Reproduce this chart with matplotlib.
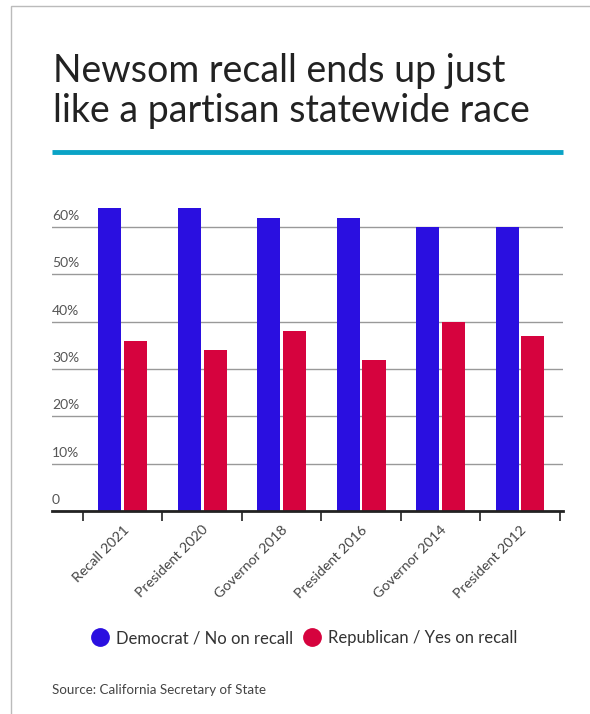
import matplotlib
matplotlib.use("Agg")
import matplotlib.pyplot as plt
import numpy as np
from matplotlib.lines import Line2D
from matplotlib.patches import Rectangle

# --- data ---
races = ["Recall 2021", "President 2020", "Governor 2018",
         "President 2016", "Governor 2014", "President 2012"]
dem_no = [64, 64, 62, 62, 60, 60]
rep_yes = [36, 34, 38, 32, 40, 37]
y_ticks = [0, 10, 20, 30, 40, 50, 60]
y_tick_labels = ["0", "10%", "20%", "30%", "40%", "50%", "60%"]

BLUE = "#2a0fe0"
RED = "#d6033e"
TEAL = "#0aa3c6"

plt.rcParams["font.family"] = ["Lato", "DejaVu Sans"]

W, H = 590, 714
fig = plt.figure(figsize=(W / 100, H / 100), dpi=100)
fig.patch.set_facecolor("white")


def fx(px):
    return px / W


def fy(py):
    return 1 - py / H


# outer frame (right/bottom run off the image)
fig.add_artist(Rectangle((fx(11), fy(H + 20)), fx(W + 20), (H + 14) / H,
                         transform=fig.transFigure, fill=False,
                         edgecolor="#bbbbbb", lw=1))

# title + teal rule
fig.text(fx(53), fy(82), "Newsom recall ends up just",
         fontsize=27, color="#222222", va="baseline", ha="left")
fig.text(fx(53), fy(122), "like a partisan statewide race",
         fontsize=27, color="#222222", va="baseline", ha="left")
fig.add_artist(Line2D([fx(52), fx(563)], [fy(151.5), fy(151.5)],
                      transform=fig.transFigure, color=TEAL, lw=3.5,
                      solid_capstyle="butt"))

# --- axes ---
ax_left, ax_right, ax_bottom = 52, 563, 511
ymax = 65
px_per_unit = (511 - 227) / 60
ax_top = ax_bottom - ymax * px_per_unit
ax = fig.add_axes([fx(ax_left), fy(ax_bottom), fx(ax_right - ax_left),
                   (ax_bottom - ax_top) / H])

x = np.arange(len(races))
bw = 0.29
ax.bar(x - 0.162, dem_no, bw, color=BLUE, zorder=3)
ax.bar(x + 0.162, rep_yes, bw, color=RED, zorder=3)

ax.set_xlim(-0.89, 5.54)
ax.set_ylim(0, ymax)

for s in ["top", "right", "left"]:
    ax.spines[s].set_visible(False)
ax.spines["bottom"].set_color("#222222")
ax.spines["bottom"].set_linewidth(2)
ax.spines["bottom"].set_zorder(4)

ax.set_yticks(y_ticks)
ax.set_yticklabels([])
ax.tick_params(axis="y", length=0)
ax.yaxis.grid(True, color="#999999", lw=1)
ax.set_axisbelow(True)

for v, lab in zip(y_ticks, y_tick_labels):
    ax.annotate(lab, xy=(0, v), xycoords=("axes fraction", "data"),
                xytext=(0, 3.5), textcoords="offset points",
                ha="left", va="bottom", fontsize=10, color="#555555")

# category labels at centers, boundary ticks as minor ticks
ax.set_xticks(x)
ax.set_xticklabels(races, rotation=45, ha="right", rotation_mode="anchor",
                   fontsize=10.3, color="#444444")
ax.tick_params(axis="x", which="major", length=0, pad=9)
ax.set_xticks(np.arange(-0.5, len(races), 1.0), minor=True)
ax.tick_params(axis="x", which="minor", length=7, width=1.2, color="#222222")

# legend
handles = [Line2D([], [], marker="o", ls="", color=BLUE, markersize=12.5),
           Line2D([], [], marker="o", ls="", color=RED, markersize=12.5)]
fig.legend(handles, ["Democrat / No on recall", "Republican / Yes on recall"],
           loc="center", bbox_to_anchor=(fx(304), fy(638)), ncol=2,
           frameon=False, fontsize=12, handletextpad=0.35,
           columnspacing=0.55, handlelength=1.2, labelcolor="#333333")

fig.text(fx(52), fy(690), "Source: California Secretary of State",
         fontsize=9.6, color="#444444", ha="left", va="center")

fig.savefig("out.png", dpi=100, facecolor="white")
